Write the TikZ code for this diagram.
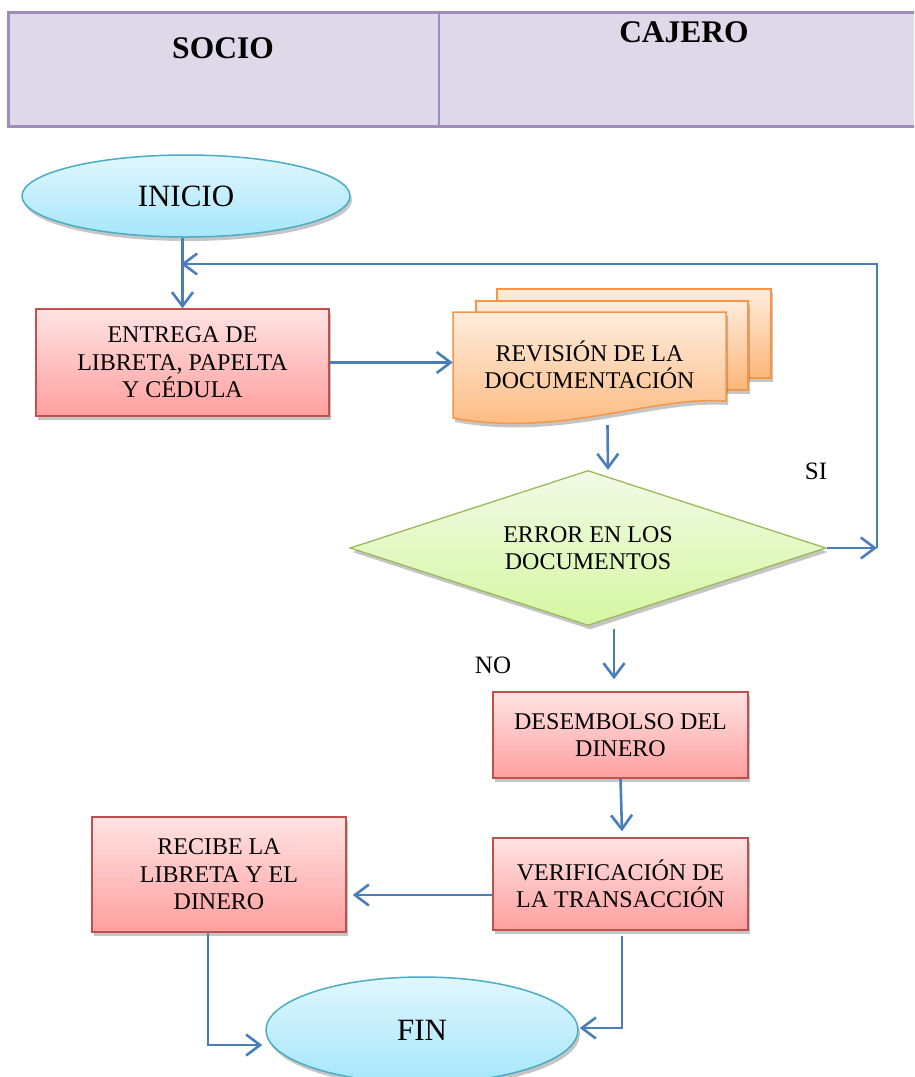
\documentclass[tikz,border=0pt]{standalone}
\usepackage{fontspec}
\setmainfont{Liberation Serif}
\usetikzlibrary{shapes.geometric,arrows.meta,shadows,calc}

\definecolor{hdrfill}{HTML}{DFD8E9}
\definecolor{hdrline}{HTML}{A08BBE}
\definecolor{flow}{HTML}{4A7EBB}
\definecolor{redtop}{HTML}{FFE3E3}
\definecolor{redbot}{HTML}{FF9F9F}
\definecolor{redline}{HTML}{C0504D}
\definecolor{aquatop}{HTML}{E0F7FE}
\definecolor{aquabot}{HTML}{A6E6FA}
\definecolor{aqualine}{HTML}{4BACC6}
\definecolor{orgtop}{HTML}{FEECDD}
\definecolor{orgbot}{HTML}{FDB679}
\definecolor{orgline}{HTML}{F79646}
\definecolor{grntop}{HTML}{F1FAE6}
\definecolor{grnbot}{HTML}{D5F7A2}
\definecolor{grnline}{HTML}{9BBB59}

\tikzset{
  txt/.style={font=\fontsize{24}{27.5}\selectfont, align=center},
  shad/.style={drop shadow={shadow xshift=2pt, shadow yshift=-4pt, opacity=0.32, fill=black!70}},
  procbox/.style={txt, rectangle, draw=redline, line width=1.5pt,
    top color=redtop, bottom color=redbot, shad, inner sep=0pt},
  term/.style={ellipse, draw=aqualine, line width=1.5pt, top color=aquatop,
    bottom color=aquabot, shad, inner sep=0pt, font=\fontsize{31}{36}\selectfont},
  sheet/.style={draw=orgline, line width=1.5pt, top color=orgtop, bottom color=orgbot, shad},
  decision/.style={txt, diamond, shape aspect=3, draw=grnline, line width=1.3pt,
    top color=grntop, bottom color=grnbot, shad, inner sep=0pt,
    minimum width=476pt, minimum height=155pt},
  arr/.style={draw=flow, line width=2.6pt, -{Straight Barb[length=14pt,width=21pt]}},
  lbl/.style={font=\fontsize{25}{30}\selectfont},
  hdr/.style={font=\fontsize{31.5}{36}\selectfont\bfseries}
}

\begin{document}
\begin{tikzpicture}[x=1pt,y=1pt]
  \clip (0,0) rectangle (914,-1077);
  \fill[white] (0,0) rectangle (914,-1077);

  % lane header
  \fill[hdrfill] (8,-12) rectangle (930,-126);
  \draw[hdrline, line width=3pt] (8,-12) rectangle (930,-126);
  \draw[hdrline, line width=2pt] (439,-12) -- (439,-126);
  \node[hdr] (socio) at (223,-48) {SOCIO};
  \node[hdr] (cajero) at (684,-32) {CAJERO};

  % terminators
  \node[term, minimum width=328pt, minimum height=82pt] (ini) at (186,-196) {INICIO};
  \node[term, minimum width=312pt, minimum height=106pt] (fin) at (422,-1030) {FIN};

  % process boxes
  \node[procbox, minimum width=293pt, minimum height=107pt] (ent) at (182.5,-362.5)
    {ENTREGA DE\\LIBRETA, PAPELTA\\Y CÉDULA};
  \node[procbox, minimum width=255pt, minimum height=86pt] (des) at (620.5,-735)
    {DESEMBOLSO DEL\\DINERO};
  \node[procbox, minimum width=255pt, minimum height=92pt] (ver) at (620.5,-884)
    {VERIFICACIÓN DE\\LA TRANSACCIÓN};
  \node[procbox, minimum width=254pt, minimum height=115pt] (rec) at (219,-874.5)
    {RECIBE LA\\LIBRETA Y EL\\DINERO};

  % stacked documents
  \path[sheet] (497,-289) rectangle (771,-378);
  \path[sheet] (476,-301) rectangle (748,-390);
  \path[sheet] (453,-312) -- (726,-312) -- (726,-401)
    .. controls (650,-396) and (560,-438) .. (453,-418) -- cycle;
  \node[txt, minimum width=273pt, minimum height=106pt, inner sep=0pt] (doc)
    at (589.5,-365) {REVISIÓN DE LA\\DOCUMENTACIÓN};

  % decision
  \node[decision] (dia) at (588,-548) {ERROR EN LOS\\DOCUMENTOS};

  % branch labels
  \node[lbl] (si) at (816,-471) {SI};
  \node[lbl] (no) at (493,-665) {NO};

  % connectors
  \coordinate (loopR) at (877,-548);
  \coordinate (loopL) at (181,-264);
  \draw[arr] (ent.north |- ini.south) -- (ent.north);
  \draw[arr] (ent.east) -- (doc.west |- ent.east);
  \draw[arr] ($(doc.south)+(18,-7)$) -- ($(dia.north)+(20,0)$);
  \draw[arr] (dia.east) -- (loopR);
  \draw[arr] (loopR) |- (loopL);
  \draw[arr] ($(dia.south)+(26,-3)$) -- ($(des.north)+(-6.5,12)$);
  \draw[arr] (des.south) -- ($(ver.north)+(1.5,6)$);
  \draw[arr] ($(ver.west)+(0,-11)$) -- ($(rec.east)+(6,-20.5)$);
  \draw[arr] ($(rec.south)+(-11,0)$) |- ($(fin.west)+(-3,-15)$);
  \draw[arr] ($(ver.south)+(1.5,-5)$) |- ($(fin.east)+(1,2)$);
\end{tikzpicture}
\end{document}
